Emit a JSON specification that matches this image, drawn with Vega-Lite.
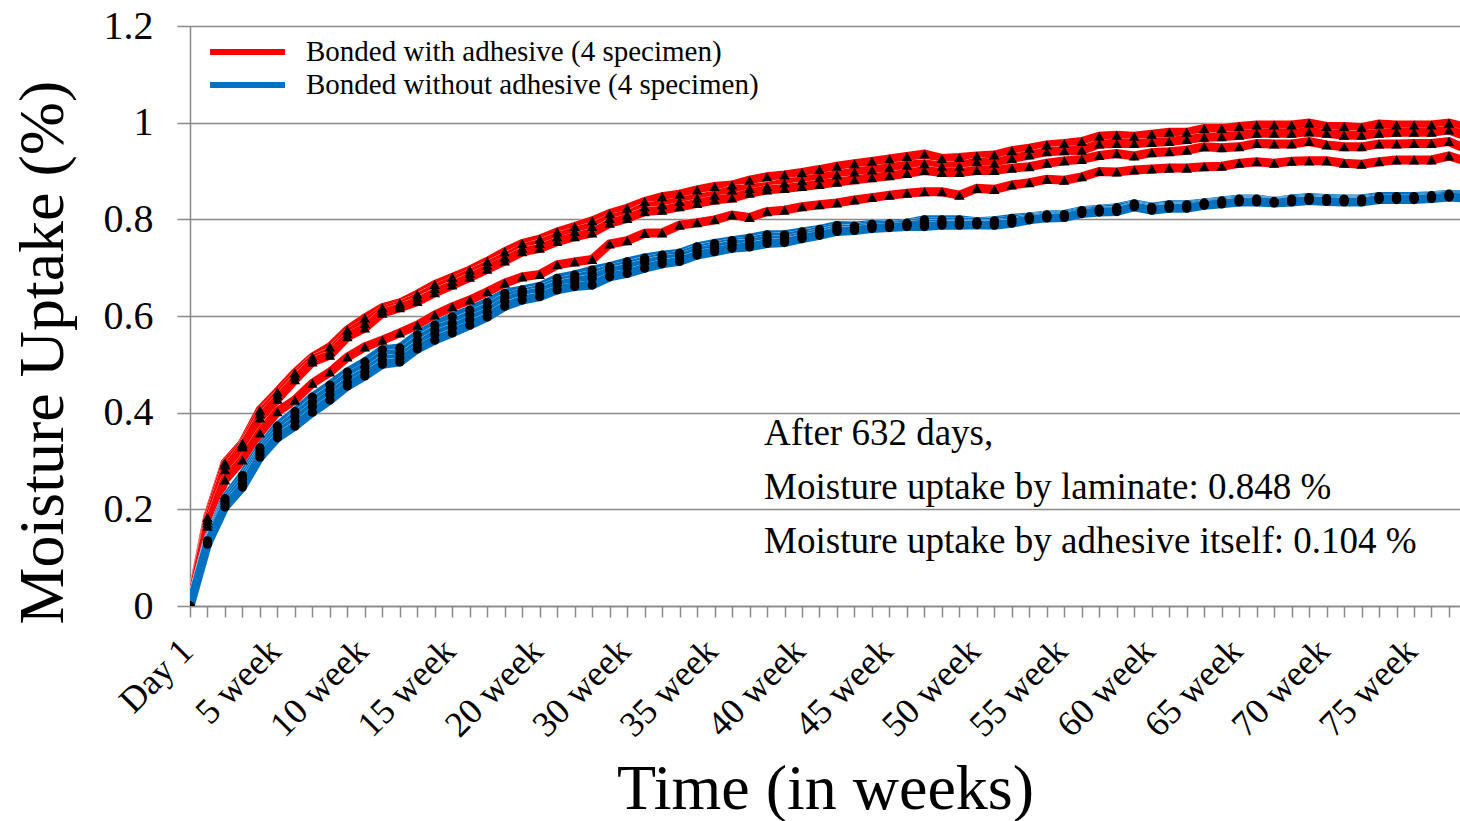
{
  "$schema": "https://vega.github.io/schema/vega-lite/v6.json",
  "width": 1270,
  "height": 580,
  "autosize": {"type": "none"},
  "padding": {"left": 190, "top": 26, "right": 0, "bottom": 215},
  "background": "white",
  "datasets": {
    "uptake": [
      {"t": 0, "a1": 0, "a2": 0, "a3": 0, "a4": 0, "b1": 0, "b2": 0, "b3": 0, "b4": 0},
      {"t": 1, "a1": 0.183, "a2": 0.178, "a3": 0.172, "a4": 0.165, "b1": 0.135, "b2": 0.132, "b3": 0.130, "b4": 0.128},
      {"t": 2, "a1": 0.296, "a2": 0.292, "a3": 0.282, "a4": 0.261, "b1": 0.222, "b2": 0.216, "b3": 0.211, "b4": 0.205},
      {"t": 3, "a1": 0.337, "a2": 0.333, "a3": 0.329, "a4": 0.302, "b1": 0.270, "b2": 0.262, "b3": 0.254, "b4": 0.246},
      {"t": 4, "a1": 0.405, "a2": 0.398, "a3": 0.389, "a4": 0.358, "b1": 0.327, "b2": 0.320, "b3": 0.314, "b4": 0.308},
      {"t": 5, "a1": 0.443, "a2": 0.436, "a3": 0.428, "a4": 0.402, "b1": 0.372, "b2": 0.364, "b3": 0.356, "b4": 0.348},
      {"t": 6, "a1": 0.482, "a2": 0.476, "a3": 0.468, "a4": 0.426, "b1": 0.402, "b2": 0.392, "b3": 0.382, "b4": 0.372},
      {"t": 7, "a1": 0.515, "a2": 0.510, "a3": 0.505, "a4": 0.461, "b1": 0.432, "b2": 0.422, "b3": 0.412, "b4": 0.401},
      {"t": 8, "a1": 0.536, "a2": 0.526, "a3": 0.519, "a4": 0.484, "b1": 0.457, "b2": 0.447, "b3": 0.437, "b4": 0.426},
      {"t": 9, "a1": 0.571, "a2": 0.564, "a3": 0.557, "a4": 0.515, "b1": 0.484, "b2": 0.474, "b3": 0.463, "b4": 0.455},
      {"t": 10, "a1": 0.596, "a2": 0.585, "a3": 0.575, "a4": 0.536, "b1": 0.505, "b2": 0.494, "b3": 0.484, "b4": 0.476},
      {"t": 11, "a1": 0.617, "a2": 0.611, "a3": 0.606, "a4": 0.550, "b1": 0.530, "b2": 0.519, "b3": 0.509, "b4": 0.500},
      {"t": 12, "a1": 0.627, "a2": 0.622, "a3": 0.617, "a4": 0.565, "b1": 0.534, "b2": 0.523, "b3": 0.513, "b4": 0.505},
      {"t": 13, "a1": 0.645, "a2": 0.638, "a3": 0.630, "a4": 0.581, "b1": 0.561, "b2": 0.550, "b3": 0.540, "b4": 0.532},
      {"t": 14, "a1": 0.665, "a2": 0.657, "a3": 0.648, "a4": 0.602, "b1": 0.581, "b2": 0.571, "b3": 0.561, "b4": 0.550},
      {"t": 15, "a1": 0.680, "a2": 0.672, "a3": 0.664, "a4": 0.619, "b1": 0.598, "b2": 0.585, "b3": 0.575, "b4": 0.565},
      {"t": 16, "a1": 0.695, "a2": 0.688, "a3": 0.680, "a4": 0.633, "b1": 0.612, "b2": 0.602, "b3": 0.592, "b4": 0.581},
      {"t": 17, "a1": 0.713, "a2": 0.705, "a3": 0.697, "a4": 0.650, "b1": 0.628, "b2": 0.618, "b3": 0.608, "b4": 0.598},
      {"t": 18, "a1": 0.733, "a2": 0.722, "a3": 0.714, "a4": 0.668, "b1": 0.647, "b2": 0.638, "b3": 0.630, "b4": 0.620},
      {"t": 19, "a1": 0.750, "a2": 0.740, "a3": 0.733, "a4": 0.681, "b1": 0.654, "b2": 0.648, "b3": 0.643, "b4": 0.633},
      {"t": 20, "a1": 0.759, "a2": 0.750, "a3": 0.740, "a4": 0.686, "b1": 0.661, "b2": 0.655, "b3": 0.650, "b4": 0.640},
      {"t": 21, "a1": 0.774, "a2": 0.764, "a3": 0.754, "a4": 0.706, "b1": 0.678, "b2": 0.670, "b3": 0.664, "b4": 0.654},
      {"t": 22, "a1": 0.785, "a2": 0.775, "a3": 0.764, "a4": 0.712, "b1": 0.685, "b2": 0.678, "b3": 0.671, "b4": 0.661},
      {"t": 23, "a1": 0.797, "a2": 0.785, "a3": 0.772, "a4": 0.717, "b1": 0.695, "b2": 0.686, "b3": 0.678, "b4": 0.664},
      {"t": 24, "a1": 0.812, "a2": 0.802, "a3": 0.792, "a4": 0.749, "b1": 0.702, "b2": 0.697, "b3": 0.692, "b4": 0.681},
      {"t": 25, "a1": 0.823, "a2": 0.809, "a3": 0.802, "a4": 0.756, "b1": 0.712, "b2": 0.705, "b3": 0.699, "b4": 0.688},
      {"t": 26, "a1": 0.837, "a2": 0.826, "a3": 0.816, "a4": 0.771, "b1": 0.720, "b2": 0.714, "b3": 0.709, "b4": 0.699},
      {"t": 27, "a1": 0.847, "a2": 0.830, "a3": 0.819, "a4": 0.772, "b1": 0.726, "b2": 0.721, "b3": 0.716, "b4": 0.708},
      {"t": 28, "a1": 0.852, "a2": 0.837, "a3": 0.826, "a4": 0.788, "b1": 0.730, "b2": 0.725, "b3": 0.720, "b4": 0.713},
      {"t": 29, "a1": 0.861, "a2": 0.844, "a3": 0.833, "a4": 0.793, "b1": 0.743, "b2": 0.738, "b3": 0.733, "b4": 0.726},
      {"t": 30, "a1": 0.868, "a2": 0.850, "a3": 0.840, "a4": 0.799, "b1": 0.750, "b2": 0.745, "b3": 0.740, "b4": 0.733},
      {"t": 31, "a1": 0.871, "a2": 0.861, "a3": 0.844, "a4": 0.809, "b1": 0.756, "b2": 0.751, "b3": 0.747, "b4": 0.740},
      {"t": 32, "a1": 0.881, "a2": 0.864, "a3": 0.854, "a4": 0.804, "b1": 0.761, "b2": 0.755, "b3": 0.750, "b4": 0.743},
      {"t": 33, "a1": 0.888, "a2": 0.868, "a3": 0.861, "a4": 0.816, "b1": 0.768, "b2": 0.762, "b3": 0.757, "b4": 0.750},
      {"t": 34, "a1": 0.892, "a2": 0.875, "a3": 0.864, "a4": 0.819, "b1": 0.768, "b2": 0.763, "b3": 0.757, "b4": 0.752},
      {"t": 35, "a1": 0.897, "a2": 0.880, "a3": 0.868, "a4": 0.826, "b1": 0.774, "b2": 0.769, "b3": 0.764, "b4": 0.760},
      {"t": 36, "a1": 0.903, "a2": 0.886, "a3": 0.872, "a4": 0.830, "b1": 0.779, "b2": 0.775, "b3": 0.771, "b4": 0.767},
      {"t": 37, "a1": 0.910, "a2": 0.892, "a3": 0.877, "a4": 0.834, "b1": 0.787, "b2": 0.783, "b3": 0.779, "b4": 0.775},
      {"t": 38, "a1": 0.915, "a2": 0.898, "a3": 0.882, "a4": 0.840, "b1": 0.786, "b2": 0.783, "b3": 0.780, "b4": 0.777},
      {"t": 39, "a1": 0.920, "a2": 0.902, "a3": 0.886, "a4": 0.845, "b1": 0.790, "b2": 0.787, "b3": 0.784, "b4": 0.781},
      {"t": 40, "a1": 0.925, "a2": 0.907, "a3": 0.890, "a4": 0.850, "b1": 0.791, "b2": 0.788, "b3": 0.786, "b4": 0.783},
      {"t": 41, "a1": 0.930, "a2": 0.912, "a3": 0.895, "a4": 0.854, "b1": 0.792, "b2": 0.790, "b3": 0.788, "b4": 0.785},
      {"t": 42, "a1": 0.935, "a2": 0.915, "a3": 0.901, "a4": 0.857, "b1": 0.799, "b2": 0.795, "b3": 0.790, "b4": 0.785},
      {"t": 43, "a1": 0.926, "a2": 0.910, "a3": 0.897, "a4": 0.857, "b1": 0.799, "b2": 0.795, "b3": 0.791, "b4": 0.788},
      {"t": 44, "a1": 0.928, "a2": 0.910, "a3": 0.897, "a4": 0.850, "b1": 0.799, "b2": 0.795, "b3": 0.791, "b4": 0.788},
      {"t": 45, "a1": 0.931, "a2": 0.919, "a3": 0.901, "a4": 0.864, "b1": 0.795, "b2": 0.793, "b3": 0.791, "b4": 0.789},
      {"t": 46, "a1": 0.933, "a2": 0.916, "a3": 0.901, "a4": 0.862, "b1": 0.797, "b2": 0.794, "b3": 0.791, "b4": 0.788},
      {"t": 47, "a1": 0.942, "a2": 0.926, "a3": 0.906, "a4": 0.871, "b1": 0.802, "b2": 0.799, "b3": 0.795, "b4": 0.792},
      {"t": 48, "a1": 0.947, "a2": 0.933, "a3": 0.909, "a4": 0.876, "b1": 0.805, "b2": 0.803, "b3": 0.801, "b4": 0.799},
      {"t": 49, "a1": 0.954, "a2": 0.940, "a3": 0.916, "a4": 0.883, "b1": 0.809, "b2": 0.807, "b3": 0.805, "b4": 0.803},
      {"t": 50, "a1": 0.957, "a2": 0.942, "a3": 0.921, "a4": 0.881, "b1": 0.810, "b2": 0.808, "b3": 0.806, "b4": 0.804},
      {"t": 51, "a1": 0.961, "a2": 0.943, "a3": 0.924, "a4": 0.888, "b1": 0.818, "b2": 0.816, "b3": 0.814, "b4": 0.812},
      {"t": 52, "a1": 0.972, "a2": 0.956, "a3": 0.932, "a4": 0.899, "b1": 0.821, "b2": 0.819, "b3": 0.817, "b4": 0.815},
      {"t": 53, "a1": 0.974, "a2": 0.957, "a3": 0.936, "a4": 0.898, "b1": 0.824, "b2": 0.822, "b3": 0.818, "b4": 0.816},
      {"t": 54, "a1": 0.972, "a2": 0.957, "a3": 0.931, "a4": 0.902, "b1": 0.832, "b2": 0.830, "b3": 0.828, "b4": 0.826},
      {"t": 55, "a1": 0.976, "a2": 0.959, "a3": 0.938, "a4": 0.904, "b1": 0.825, "b2": 0.823, "b3": 0.821, "b4": 0.819},
      {"t": 56, "a1": 0.980, "a2": 0.961, "a3": 0.940, "a4": 0.906, "b1": 0.830, "b2": 0.827, "b3": 0.825, "b4": 0.823},
      {"t": 57, "a1": 0.980, "a2": 0.965, "a3": 0.943, "a4": 0.906, "b1": 0.830, "b2": 0.828, "b3": 0.825, "b4": 0.823},
      {"t": 58, "a1": 0.988, "a2": 0.970, "a3": 0.950, "a4": 0.909, "b1": 0.834, "b2": 0.832, "b3": 0.831, "b4": 0.829},
      {"t": 59, "a1": 0.988, "a2": 0.971, "a3": 0.948, "a4": 0.910, "b1": 0.838, "b2": 0.836, "b3": 0.834, "b4": 0.832},
      {"t": 60, "a1": 0.992, "a2": 0.974, "a3": 0.950, "a4": 0.916, "b1": 0.842, "b2": 0.840, "b3": 0.838, "b4": 0.836},
      {"t": 61, "a1": 0.995, "a2": 0.978, "a3": 0.957, "a4": 0.919, "b1": 0.842, "b2": 0.840, "b3": 0.838, "b4": 0.836},
      {"t": 62, "a1": 0.995, "a2": 0.978, "a3": 0.956, "a4": 0.916, "b1": 0.837, "b2": 0.836, "b3": 0.835, "b4": 0.834},
      {"t": 63, "a1": 0.995, "a2": 0.978, "a3": 0.956, "a4": 0.920, "b1": 0.842, "b2": 0.840, "b3": 0.838, "b4": 0.836},
      {"t": 64, "a1": 0.999, "a2": 0.981, "a3": 0.961, "a4": 0.921, "b1": 0.845, "b2": 0.843, "b3": 0.841, "b4": 0.839},
      {"t": 65, "a1": 0.992, "a2": 0.978, "a3": 0.954, "a4": 0.921, "b1": 0.843, "b2": 0.841, "b3": 0.839, "b4": 0.837},
      {"t": 66, "a1": 0.992, "a2": 0.974, "a3": 0.950, "a4": 0.916, "b1": 0.842, "b2": 0.840, "b3": 0.838, "b4": 0.836},
      {"t": 67, "a1": 0.990, "a2": 0.974, "a3": 0.950, "a4": 0.914, "b1": 0.842, "b2": 0.840, "b3": 0.838, "b4": 0.836},
      {"t": 68, "a1": 0.997, "a2": 0.978, "a3": 0.956, "a4": 0.919, "b1": 0.847, "b2": 0.845, "b3": 0.843, "b4": 0.841},
      {"t": 69, "a1": 0.995, "a2": 0.980, "a3": 0.956, "a4": 0.923, "b1": 0.847, "b2": 0.845, "b3": 0.843, "b4": 0.841},
      {"t": 70, "a1": 0.995, "a2": 0.980, "a3": 0.957, "a4": 0.923, "b1": 0.847, "b2": 0.845, "b3": 0.843, "b4": 0.841},
      {"t": 71, "a1": 0.995, "a2": 0.980, "a3": 0.957, "a4": 0.923, "b1": 0.849, "b2": 0.847, "b3": 0.845, "b4": 0.843},
      {"t": 72, "a1": 0.999, "a2": 0.985, "a3": 0.961, "a4": 0.931, "b1": 0.852, "b2": 0.850, "b3": 0.848, "b4": 0.846},
      {"t": 73, "a1": 0.990, "a2": 0.972, "a3": 0.945, "a4": 0.920, "b1": 0.850, "b2": 0.848, "b3": 0.846, "b4": 0.844}
    ],
    "notes": [
      {"note": "After 632 days,"},
      {"note": "Moisture uptake by laminate: 0.848 %"},
      {"note": "Moisture uptake by adhesive itself: 0.104 %"}
    ]
  },
  "layer": [
    {
      "data": {"name": "uptake"},
      "encoding": {
        "x": {
          "field": "t",
          "type": "quantitative",
          "title": "Time (in weeks)",
          "scale": {"domain": [0, 72.63], "nice": false, "zero": false},
          "axis": {
            "values": [0,1,2,3,4,5,6,7,8,9,10,11,12,13,14,15,16,17,18,19,20,21,22,23,24,25,26,27,28,29,30,31,32,33,34,35,36,37,38,39,40,41,42,43,44,45,46,47,48,49,50,51,52,53,54,55,56,57,58,59,60,61,62,63,64,65,66,67,68,69,70,71,72],
            "labelExpr": "datum.value == 0 ? 'Day 1' : (datum.value % 5 == 0 ? (datum.value <= 20 ? datum.value : datum.value + 5) + ' week' : '')",
            "labelAngle": -45,
            "labelAlign": "right",
            "labelBaseline": "middle",
            "labelFontSize": 36,
            "labelPadding": 28,
            "labelOffset": -3,
            "labelOverlap": false,
            "labelFlush": false,
            "labelBound": false,
            "tickSize": 11,
            "grid": false,
            "titleFontSize": 64,
            "titleBaseline": "alphabetic",
            "titleY": 202
          }
        }
      },
      "layer": [
        {
          "encoding": {
            "y": {
              "field": "a1",
              "type": "quantitative",
              "title": "Moisture Uptake (%)",
              "scale": {"domain": [0, 1.2], "nice": false, "zero": true},
              "axis": {
                "values": [0, 0.2, 0.4, 0.6, 0.8, 1, 1.2],
                "format": "~g",
                "grid": true,
                "tickSize": 13,
                "labelFontSize": 40,
                "labelPadding": 24,
                "titleFontSize": 64,
                "titleAngle": 270,
                "titleBaseline": "alphabetic",
                "titleAnchor": "middle",
                "titleX": -128,
                "titleY": 326
              }
            }
          },
          "layer": [
            {"mark": {"type": "line", "stroke": "white", "strokeWidth": 9.3, "clip": true}},
            {"mark": {"type": "line", "strokeWidth": 9, "clip": true}, "encoding": {"color": {"datum": "Bonded with adhesive (4 specimen)", "scale": {"domain": ["Bonded with adhesive (4 specimen)", "Bonded without adhesive (4 specimen)"], "range": ["#FF0000", "#0070C0"]}, "legend": {"orient": "none", "legendX": 39.5, "legendY": 8, "title": null, "padding": 0, "symbolType": "M-2.5,0H2.5", "symbolSize": 900, "symbolStrokeWidth": 6, "symbolOpacity": 1, "labelOffset": 40.5, "rowPadding": 0}}}}
          ]
        },
        {
          "encoding": {"y": {"field": "a2", "type": "quantitative", "title": "Moisture Uptake (%)", "scale": {"domain": [0, 1.2], "nice": false}}},
          "layer": [
            {"mark": {"type": "line", "stroke": "white", "strokeWidth": 9.3, "clip": true}},
            {"mark": {"type": "line", "strokeWidth": 9, "clip": true}, "encoding": {"color": {"datum": "Bonded with adhesive (4 specimen)"}}}
          ]
        },
        {
          "encoding": {"y": {"field": "a3", "type": "quantitative", "title": "Moisture Uptake (%)", "scale": {"domain": [0, 1.2], "nice": false}}},
          "layer": [
            {"mark": {"type": "line", "stroke": "white", "strokeWidth": 9.3, "clip": true}},
            {"mark": {"type": "line", "strokeWidth": 9, "clip": true}, "encoding": {"color": {"datum": "Bonded with adhesive (4 specimen)"}}}
          ]
        },
        {
          "encoding": {"y": {"field": "a4", "type": "quantitative", "title": "Moisture Uptake (%)", "scale": {"domain": [0, 1.2], "nice": false}}},
          "layer": [
            {"mark": {"type": "line", "stroke": "white", "strokeWidth": 9.3, "clip": true}},
            {"mark": {"type": "line", "strokeWidth": 9, "clip": true}, "encoding": {"color": {"datum": "Bonded with adhesive (4 specimen)"}}}
          ]
        },
        {
          "encoding": {"y": {"field": "b1", "type": "quantitative", "title": "Moisture Uptake (%)", "scale": {"domain": [0, 1.2], "nice": false}}},
          "layer": [
            {"mark": {"type": "line", "stroke": "white", "strokeWidth": 9.3, "clip": true}},
            {"mark": {"type": "line", "strokeWidth": 9, "clip": true}, "encoding": {"color": {"datum": "Bonded without adhesive (4 specimen)"}}}
          ]
        },
        {
          "encoding": {"y": {"field": "b2", "type": "quantitative", "title": "Moisture Uptake (%)", "scale": {"domain": [0, 1.2], "nice": false}}},
          "layer": [
            {"mark": {"type": "line", "stroke": "white", "strokeWidth": 9.3, "clip": true}},
            {"mark": {"type": "line", "strokeWidth": 9, "clip": true}, "encoding": {"color": {"datum": "Bonded without adhesive (4 specimen)"}}}
          ]
        },
        {
          "encoding": {"y": {"field": "b3", "type": "quantitative", "title": "Moisture Uptake (%)", "scale": {"domain": [0, 1.2], "nice": false}}},
          "layer": [
            {"mark": {"type": "line", "stroke": "white", "strokeWidth": 9.3, "clip": true}},
            {"mark": {"type": "line", "strokeWidth": 9, "clip": true}, "encoding": {"color": {"datum": "Bonded without adhesive (4 specimen)"}}}
          ]
        },
        {
          "encoding": {"y": {"field": "b4", "type": "quantitative", "title": "Moisture Uptake (%)", "scale": {"domain": [0, 1.2], "nice": false}}},
          "layer": [
            {"mark": {"type": "line", "stroke": "white", "strokeWidth": 9.3, "clip": true}},
            {"mark": {"type": "line", "strokeWidth": 9, "clip": true}, "encoding": {"color": {"datum": "Bonded without adhesive (4 specimen)"}}}
          ]
        },
        {"mark": {"type": "point", "shape": "triangle-up", "filled": true, "fill": "black", "strokeWidth": 0, "size": 110, "opacity": 1, "clip": true}, "encoding": {"y": {"field": "a1", "type": "quantitative", "title": "Moisture Uptake (%)"}}},
        {"mark": {"type": "point", "shape": "triangle-up", "filled": true, "fill": "black", "strokeWidth": 0, "size": 110, "opacity": 1, "clip": true}, "encoding": {"y": {"field": "a2", "type": "quantitative", "title": "Moisture Uptake (%)"}}},
        {"mark": {"type": "point", "shape": "triangle-up", "filled": true, "fill": "black", "strokeWidth": 0, "size": 110, "opacity": 1, "clip": true}, "encoding": {"y": {"field": "a3", "type": "quantitative", "title": "Moisture Uptake (%)"}}},
        {"mark": {"type": "point", "shape": "triangle-up", "filled": true, "fill": "black", "strokeWidth": 0, "size": 110, "opacity": 1, "clip": true}, "encoding": {"y": {"field": "a4", "type": "quantitative", "title": "Moisture Uptake (%)"}}},
        {"mark": {"type": "point", "shape": "circle", "filled": true, "fill": "black", "strokeWidth": 0, "size": 85, "opacity": 1, "clip": true}, "encoding": {"y": {"field": "b1", "type": "quantitative", "title": "Moisture Uptake (%)"}}},
        {"mark": {"type": "point", "shape": "circle", "filled": true, "fill": "black", "strokeWidth": 0, "size": 85, "opacity": 1, "clip": true}, "encoding": {"y": {"field": "b2", "type": "quantitative", "title": "Moisture Uptake (%)"}}},
        {"mark": {"type": "point", "shape": "circle", "filled": true, "fill": "black", "strokeWidth": 0, "size": 85, "opacity": 1, "clip": true}, "encoding": {"y": {"field": "b3", "type": "quantitative", "title": "Moisture Uptake (%)"}}},
        {"mark": {"type": "point", "shape": "circle", "filled": true, "fill": "black", "strokeWidth": 0, "size": 85, "opacity": 1, "clip": true}, "encoding": {"y": {"field": "b4", "type": "quantitative", "title": "Moisture Uptake (%)"}}}
      ]
    },
    {
      "data": {"name": "notes"},
      "transform": [{"filter": "datum.note == 'After 632 days,'"}],
      "mark": {"type": "text", "align": "left", "baseline": "alphabetic", "font": "Liberation Serif", "fontSize": 37, "fill": "black"},
      "encoding": {
        "x": {
          "datum": 32.83,
          "type": "quantitative",
          "title": "Time (in weeks)",
          "scale": {"domain": [0, 72.63], "nice": false, "zero": false},
          "axis": {
            "values": [0,1,2,3,4,5,6,7,8,9,10,11,12,13,14,15,16,17,18,19,20,21,22,23,24,25,26,27,28,29,30,31,32,33,34,35,36,37,38,39,40,41,42,43,44,45,46,47,48,49,50,51,52,53,54,55,56,57,58,59,60,61,62,63,64,65,66,67,68,69,70,71,72],
            "labelExpr": "datum.value == 0 ? 'Day 1' : (datum.value % 5 == 0 ? (datum.value <= 20 ? datum.value : datum.value + 5) + ' week' : '')",
            "labelAngle": -45,
            "labelAlign": "right",
            "labelBaseline": "middle",
            "labelFontSize": 36,
            "labelPadding": 28,
            "labelOffset": -3,
            "labelOverlap": false,
            "labelFlush": false,
            "labelBound": false,
            "tickSize": 11,
            "grid": false,
            "titleFontSize": 64,
            "titleBaseline": "alphabetic",
            "titleY": 202
          }
        },
        "y": {"datum": 0.334, "type": "quantitative", "title": "Moisture Uptake (%)"},
        "text": {"field": "note", "type": "nominal"}
      }
    },
    {
      "data": {"name": "notes"},
      "transform": [{"filter": "indexof(datum.note, 'laminate') >= 0"}],
      "mark": {"type": "text", "align": "left", "baseline": "alphabetic", "font": "Liberation Serif", "fontSize": 37, "fill": "black"},
      "encoding": {
        "x": {
          "datum": 32.83,
          "type": "quantitative",
          "title": "Time (in weeks)",
          "scale": {"domain": [0, 72.63], "nice": false, "zero": false},
          "axis": {
            "values": [0,1,2,3,4,5,6,7,8,9,10,11,12,13,14,15,16,17,18,19,20,21,22,23,24,25,26,27,28,29,30,31,32,33,34,35,36,37,38,39,40,41,42,43,44,45,46,47,48,49,50,51,52,53,54,55,56,57,58,59,60,61,62,63,64,65,66,67,68,69,70,71,72],
            "labelExpr": "datum.value == 0 ? 'Day 1' : (datum.value % 5 == 0 ? (datum.value <= 20 ? datum.value : datum.value + 5) + ' week' : '')",
            "labelAngle": -45,
            "labelAlign": "right",
            "labelBaseline": "middle",
            "labelFontSize": 36,
            "labelPadding": 28,
            "labelOffset": -3,
            "labelOverlap": false,
            "labelFlush": false,
            "labelBound": false,
            "tickSize": 11,
            "grid": false,
            "titleFontSize": 64,
            "titleBaseline": "alphabetic",
            "titleY": 202
          }
        },
        "y": {"datum": 0.2223, "type": "quantitative", "title": "Moisture Uptake (%)"},
        "text": {"field": "note", "type": "nominal"}
      }
    },
    {
      "data": {"name": "notes"},
      "transform": [{"filter": "indexof(datum.note, 'itself') >= 0"}],
      "mark": {"type": "text", "align": "left", "baseline": "alphabetic", "font": "Liberation Serif", "fontSize": 37, "fill": "black"},
      "encoding": {
        "x": {
          "datum": 32.83,
          "type": "quantitative",
          "title": "Time (in weeks)",
          "scale": {"domain": [0, 72.63], "nice": false, "zero": false},
          "axis": {
            "values": [0,1,2,3,4,5,6,7,8,9,10,11,12,13,14,15,16,17,18,19,20,21,22,23,24,25,26,27,28,29,30,31,32,33,34,35,36,37,38,39,40,41,42,43,44,45,46,47,48,49,50,51,52,53,54,55,56,57,58,59,60,61,62,63,64,65,66,67,68,69,70,71,72],
            "labelExpr": "datum.value == 0 ? 'Day 1' : (datum.value % 5 == 0 ? (datum.value <= 20 ? datum.value : datum.value + 5) + ' week' : '')",
            "labelAngle": -45,
            "labelAlign": "right",
            "labelBaseline": "middle",
            "labelFontSize": 36,
            "labelPadding": 28,
            "labelOffset": -3,
            "labelOverlap": false,
            "labelFlush": false,
            "labelBound": false,
            "tickSize": 11,
            "grid": false,
            "titleFontSize": 64,
            "titleBaseline": "alphabetic",
            "titleY": 202
          }
        },
        "y": {"datum": 0.1106, "type": "quantitative", "title": "Moisture Uptake (%)"},
        "text": {"field": "note", "type": "nominal"}
      }
    }
  ],
  "config": {
    "view": {"stroke": null},
    "axis": {
      "labelFont": "Liberation Serif",
      "titleFont": "Liberation Serif",
      "labelColor": "black",
      "titleColor": "black",
      "titleFontWeight": "normal",
      "domainColor": "#898989",
      "tickColor": "#898989",
      "gridColor": "#898989",
      "domainWidth": 1.5,
      "tickWidth": 1.5,
      "gridWidth": 1.5
    },
    "legend": {
      "labelFont": "Liberation Serif",
      "labelFontSize": 29,
      "labelColor": "black",
      "labelLimit": 1000,
      "direction": "vertical"
    }
  }
}
